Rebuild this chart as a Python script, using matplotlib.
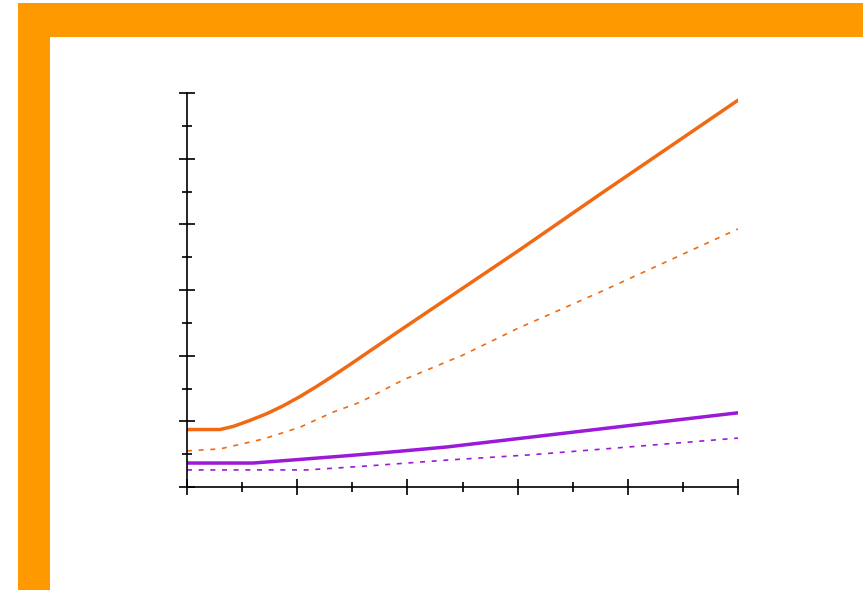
"""
plot.py: two orange and two purple curves on bare axes inside an orange frame.
"""

import matplotlib
matplotlib.use("Agg")
import matplotlib.pyplot as plt
from matplotlib.patches import Rectangle

# ── Data ───────────────────────────────────────────────────────────────

ORANGE_SOLID_X = [0, 6.0, 8.4, 11.4, 14.5, 17.4, 20.5, 23.6, 26.5, 29.6,
                  31.4, 39.2, 47.7, 60, 75, 100]
ORANGE_SOLID_Y = [8.75, 8.75, 9.23, 10.13, 11.18, 12.34, 13.77, 15.35, 16.92, 18.66,
                  19.69, 24.15, 28.95, 35.9, 44.6, 58.9]

ORANGE_DASH_X = [0, 6, 13.8, 20.5, 26.5, 31.4, 39.2, 50.1, 59.9, 75, 100]
ORANGE_DASH_Y = [5.5, 5.8, 7.3, 9.1, 11.4, 12.9, 16.3, 20.1, 24.1, 29.7, 39.3]

PURPLE_SOLID_X = [0, 12, 20.5, 29.6, 38.7, 47.2, 100]
PURPLE_SOLID_Y = [3.65, 3.65, 4.2, 4.8, 5.45, 6.1, 11.3]

PURPLE_DASH_X = [0, 21.8, 32.7, 47.2, 62.3, 77.3, 100]
PURPLE_DASH_Y = [2.6, 2.6, 3.2, 4.1, 4.9, 5.9, 7.45]

ORANGE = "#f06a14"
PURPLE = "#9a1ad8"
FRAME = "#ff9900"

# ── Figure ─────────────────────────────────────────────────────────────

W, H = 863, 590
fig = plt.figure(figsize=(W / 100, H / 100), dpi=100)

# orange frame: top band and left band (pixel coords -> figure fraction)
def px_rect(x0, y0, x1, y1):
    return Rectangle((x0 / W, 1 - y1 / H), (x1 - x0) / W, (y1 - y0) / H,
                     transform=fig.transFigure, color=FRAME, lw=0, zorder=0)

fig.patches.append(px_rect(18, 3, W, 37))
fig.patches.append(px_rect(18, 3, 50, H))

ax = fig.add_axes([187 / W, 1 - 487 / H, (738 - 187) / W, (487 - 93) / H])

ax.plot(ORANGE_SOLID_X, ORANGE_SOLID_Y, color=ORANGE, lw=2.5,
        solid_capstyle="round", solid_joinstyle="round")
ax.plot(ORANGE_DASH_X, ORANGE_DASH_Y, color=ORANGE, lw=1.2, dashes=(3, 4))
ax.plot(PURPLE_SOLID_X, PURPLE_SOLID_Y, color=PURPLE, lw=2.5,
        solid_capstyle="round", solid_joinstyle="round")
ax.plot(PURPLE_DASH_X, PURPLE_DASH_Y, color=PURPLE, lw=1.2, dashes=(3, 4))

ax.set_xlim(0, 100)
ax.set_ylim(0, 60)
ax.set_xticks(range(0, 101, 20))
ax.set_xticks(range(10, 100, 20), minor=True)
ax.set_yticks(range(0, 61, 10))
ax.set_yticks(range(5, 60, 10), minor=True)

for side in ["top", "right"]:
    ax.spines[side].set_visible(False)
for side in ["left", "bottom"]:
    ax.spines[side].set_linewidth(1.2)
    ax.spines[side].set_color("black")

ax.tick_params(which="major", direction="inout", length=12, width=1.2,
               labelbottom=False, labelleft=False)
ax.tick_params(which="minor", direction="inout", length=7, width=1.2)
ax.patch.set_alpha(0)

fig.savefig("out.png", dpi=100)
plt.close()
